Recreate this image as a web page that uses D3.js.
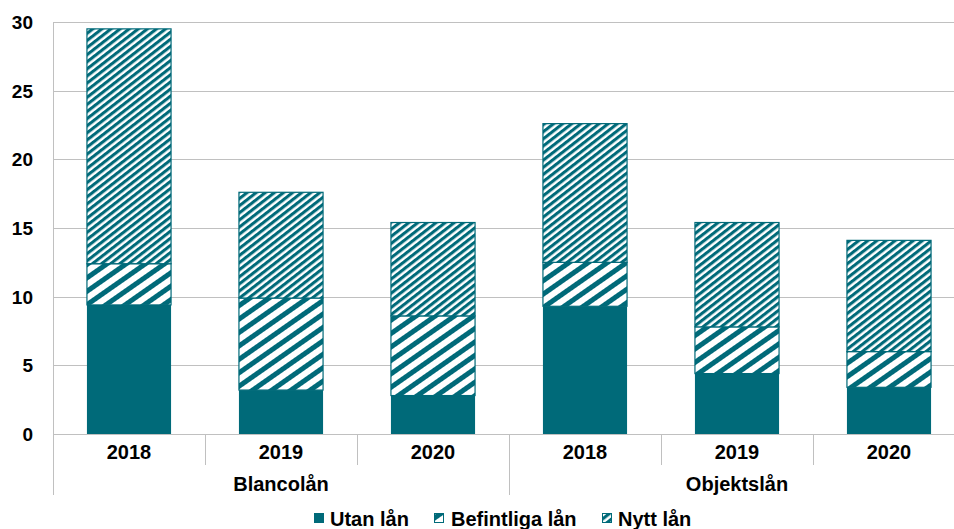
<!DOCTYPE html>
<html>
<head>
<meta charset="utf-8">
<script src="https://cdn.jsdelivr.net/npm/d3@7"></script>
<style>
  html, body { margin: 0; padding: 0; background: #fff; }
  svg { display: block; font-family: "Liberation Sans", Arial, sans-serif; font-weight: bold; }
</style>
</head>
<body>
<svg id="chart" width="954" height="529"></svg>
<script>
const groups = ["Blancolån", "Objektslån"];
const years = ["2018", "2019", "2020"];
const seriesNames = ["Utan lån", "Befintliga lån", "Nytt lån"];
const utanLan = [9.4, 3.2, 2.8, 9.3, 4.4, 3.4];
const befintligaLan = [3.0, 6.7, 5.8, 3.2, 3.4, 2.6];
const nyttLan = [17.1, 7.7, 6.8, 10.1, 7.6, 8.1];
const yTicks = [0, 5, 10, 15, 20, 25, 30];

const teal = "#006a79";
const gridColor = "#c0c0c0";

const svg = d3.select("#chart");
const defs = svg.append("defs");

function stripePattern(id, period, thick, angle) {
  const p = defs.append("pattern")
    .attr("id", id)
    .attr("patternUnits", "userSpaceOnUse")
    .attr("width", period).attr("height", period)
    .attr("patternTransform", `rotate(${angle})`);
  p.append("rect").attr("width", period).attr("height", period).attr("fill", "#fff");
  p.append("rect").attr("width", period).attr("height", thick).attr("fill", teal);
}
stripePattern("patBef", 11, 5, -35);
stripePattern("patNytt", 5.6, 3.1, -38);

const fills = [teal, "url(#patBef)", "url(#patNytt)"];

const cats = [];
groups.forEach(g => years.forEach(yr => cats.push({ group: g, year: yr })));
const rows = cats.map((c, i) => ({
  key: c.group + "|" + c.year,
  group: c.group, year: c.year,
  "Utan lån": utanLan[i],
  "Befintliga lån": befintligaLan[i],
  "Nytt lån": nyttLan[i]
}));

const plotLeft = 53, plotRight = 965, plotTop = 22, plotBottom = 434;
const x = d3.scaleBand().domain(rows.map(r => r.key)).range([plotLeft, plotRight])
  .paddingInner(0.44).paddingOuter(0.22);
const y = d3.scaleLinear().domain([0, 30]).range([plotBottom, plotTop]);

// gridlines
svg.append("g").selectAll("line").data(yTicks).join("line")
  .attr("x1", plotLeft).attr("x2", plotRight)
  .attr("y1", d => Math.round(y(d)) + 0.5).attr("y2", d => Math.round(y(d)) + 0.5)
  .attr("stroke", gridColor).attr("stroke-width", 1);

// y axis
const yAxis = d3.axisLeft(y).tickValues(yTicks).tickSize(0).tickPadding(20);
const gy = svg.append("g").attr("transform", `translate(${plotLeft},0)`).call(yAxis);
gy.select(".domain").remove();
gy.selectAll("text").attr("font-size", 19).attr("font-weight", "bold")
  .attr("font-family", "Liberation Sans, Arial, sans-serif").attr("fill", "#000")
  .attr("dy", "0.35em");

// stacked bars
const stacked = d3.stack().keys(seriesNames)(rows);
const layer = svg.append("g").selectAll("g").data(stacked).join("g")
  .attr("fill", (d, i) => fills[i])
  .attr("stroke", (d, i) => i === 0 ? "none" : teal)
  .attr("stroke-width", 1.2);
layer.selectAll("rect").data(d => d).join("rect")
  .attr("x", d => x(d.data.key) + 0.5)
  .attr("width", x.bandwidth() - 1)
  .attr("y", d => y(d[1]))
  .attr("height", d => y(d[0]) - y(d[1]));

// x axis line and separators
svg.append("line").attr("x1", plotLeft).attr("x2", plotRight)
  .attr("y1", plotBottom + 0.5).attr("y2", plotBottom + 0.5)
  .attr("stroke", gridColor);
svg.append("line").attr("x1", plotLeft + 0.5).attr("x2", plotLeft + 0.5)
  .attr("y1", plotTop).attr("y2", plotBottom)
  .attr("stroke", gridColor);

const step = x.step();
const boundaries = d3.range(rows.length + 1);
svg.append("g").selectAll("line").data(boundaries).join("line")
  .attr("x1", i => Math.round(plotLeft + i * step) + 0.5)
  .attr("x2", i => Math.round(plotLeft + i * step) + 0.5)
  .attr("y1", plotBottom)
  .attr("y2", i => (i % years.length === 0) ? 495 : 465)
  .attr("stroke", gridColor);

// year labels
svg.append("g").selectAll("text").data(rows).join("text")
  .attr("x", d => x(d.key) + x.bandwidth() / 2)
  .attr("y", 459)
  .attr("text-anchor", "middle")
  .attr("font-size", 20)
  .text(d => d.year);

// group labels
svg.append("g").selectAll("text").data(groups).join("text")
  .attr("x", (g, gi) => plotLeft + step * years.length * (gi + 0.5))
  .attr("y", 491)
  .attr("text-anchor", "middle")
  .attr("font-size", 20)
  .text(g => g);

// legend
const legendItems = [
  { name: seriesNames[0], fill: teal, sx: 314, tx: 330 },
  { name: seriesNames[1], fill: "url(#patBef)", sx: 434, tx: 451 },
  { name: seriesNames[2], fill: "url(#patNytt)", sx: 602, tx: 618 }
];
const lg = svg.append("g");
lg.selectAll("rect").data(legendItems).join("rect")
  .attr("x", d => d.sx + 0.5).attr("y", 513.5)
  .attr("width", 9).attr("height", 9)
  .attr("fill", d => d.fill)
  .attr("stroke", teal).attr("stroke-width", 1);
lg.selectAll("text").data(legendItems).join("text")
  .attr("x", d => d.tx).attr("y", 526)
  .attr("font-size", 20)
  .text(d => d.name);
</script>
</body>
</html>
